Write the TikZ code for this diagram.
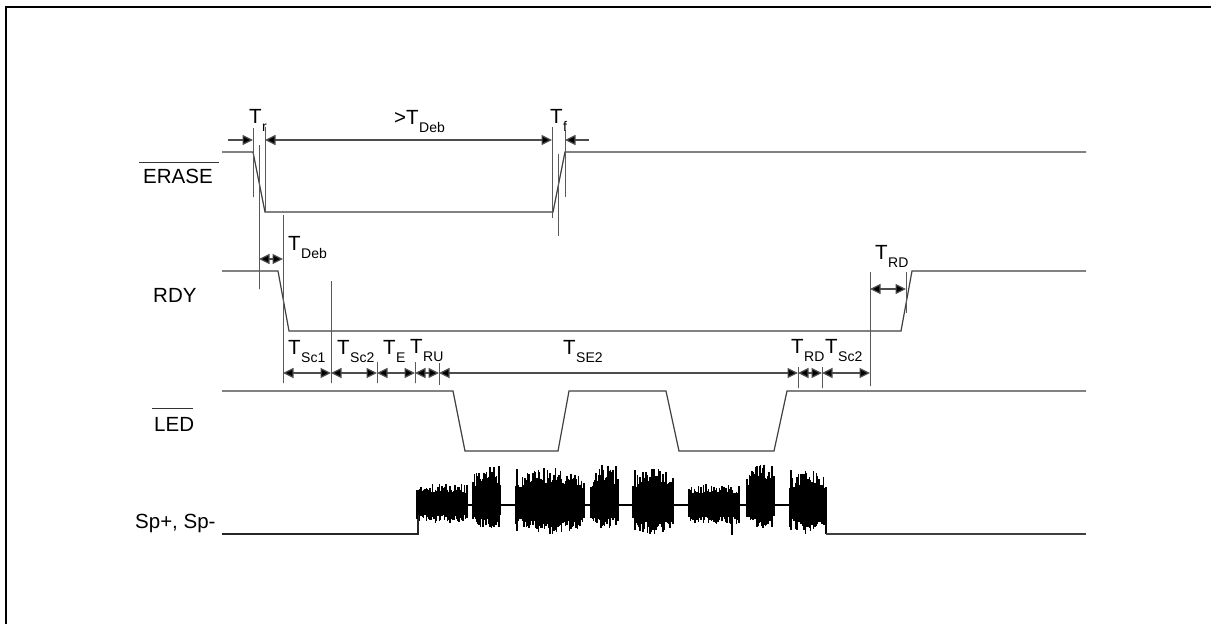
\documentclass[tikz,border=0pt]{standalone}
\usepackage{fontspec}
\setmainfont{Liberation Sans}
\usetikzlibrary{arrows.meta}
\newcommand{\lblT}[2]{{\fontsize{20.5}{20.5}\selectfont #1}\hspace{0.5pt}\raisebox{-8pt}{\fontsize{14}{14}\selectfont #2}}
\tikzset{
  x=1pt,y=-1pt,
  frameline/.style={draw=black,line width=2.2pt},
  signal/.style={draw=black!75,line width=1.2pt,line join=miter},
  guide/.style={draw=black!65,line width=1pt,dash pattern=on 2.5pt off 0.5pt},
  span/.style={draw=black!70,line width=1.2pt,{Triangle[length=10.5pt,width=10pt,fill=black]}-{Triangle[length=10.5pt,width=10pt,fill=black]}},
  spanr/.style={draw=black!70,line width=1.2pt,-{Triangle[length=10.5pt,width=10pt,fill=black]}},
  sigabel/.style={font=\fontsize{20.5}{20.5}\selectfont,anchor=base west,inner sep=0pt},
  tlabel/.style={anchor=base west,inner sep=0pt},
  over/.style={draw=black!80,line width=1pt},
  baseline sp/.style={draw=black,line width=1.6pt},
  noise/.style={draw=black,line width=1.4pt}
}
\newcommand{\burst}[7]{% x0 x1 top bottom center n flatness
  \foreach \i in {0,...,#6}{
    \pgfmathsetmacro{\xx}{#1+(#2-#1)*\i/#6}
    \pgfmathsetmacro{\env}{#7+(1-#7)*sin(180*\i/#6)}
    \pgfmathsetmacro{\up}{#5-(#5-#3)*\env*(0.58+0.42*rnd)}
    \pgfmathsetmacro{\dn}{#5+(#4-#5)*\env*(0.58+0.42*rnd)}
    \draw[noise] (\xx,\up) -- (\xx,\dn);
  }
}
\begin{document}
\begin{tikzpicture}
\useasboundingbox (0,0) rectangle (1211,624);
\fill[white] (0,0) rectangle (1211,624);
% frame
\draw[frameline] (6,624) -- (6,7) -- (1211,7);
% signals
\draw[signal] (222,152) -- (253,152) -- (265,212) -- (553,212) -- (565,152) -- (1086,152);
\draw[signal] (222,271) -- (278,271) -- (289,331) -- (901,331) -- (912,271) -- (1086,271);
\draw[signal] (222,391) -- (453,391) -- (465,451) -- (558,451) -- (569,391) -- (666,391) -- (679,451) -- (774,451) -- (787,391) -- (1086,391);
% named time marks
\coordinate (r0) at (253,140); \coordinate (r1) at (265,140);
\coordinate (f0) at (552,140); \coordinate (f1) at (565,140);
\coordinate (rl) at (228,140); \coordinate (fr) at (589,140);
\draw[guide] (253,128) -- (253,197);
\draw[guide] (265,127) -- (265,212);
\draw[guide] (259,145) -- (259,289);
\draw[guide] (283,215) -- (283,383);
\draw[guide] (331,281) -- (331,383);
\draw[guide] (552,127) -- (552,218);
\draw[guide] (558,154) -- (558,236);
\draw[guide] (565,130) -- (565,197);
\draw[guide] (377,362) -- (377,383);
\draw[guide] (415,362) -- (415,383);
\draw[guide] (439,363) -- (439,385);
\draw[guide] (798,367) -- (798,388);
\draw[guide] (822,367) -- (822,388);
\draw[guide] (870,272) -- (870,386);
\draw[guide] (906,272) -- (906,313);
% arrows
\draw[spanr] (rl) -- (r0);
\draw[span] (r1) -- (f0);
\draw[spanr] (fr) -- (f1);
\coordinate (d0) at (259,259); \coordinate (d1) at (283,259);
\draw[span] (d0) -- (d1);
\coordinate (m0) at (870,289); \coordinate (m1) at (906,289);
\draw[span] (m0) -- (m1);
\coordinate (a0) at (283,373); \coordinate (a1) at (331,373); \coordinate (a2) at (377,373);
\coordinate (a3) at (415,373); \coordinate (a4) at (439,373); \coordinate (a5) at (798,373);
\coordinate (a6) at (822,373); \coordinate (a7) at (870,373);
\draw[span] (a0) -- (a1); \draw[span] (a1) -- (a2); \draw[span] (a2) -- (a3);
\draw[span] (a3) -- (a4); \draw[span] (a4) -- (a5); \draw[span] (a5) -- (a6); \draw[span] (a6) -- (a7);
% signal labels
\node[sigabel] (lerase) at (143,183) {ERASE};
\draw[over] (139,162) -- (219,162);
\node[sigabel] (lrdy) at (153,302) {RDY};
\node[sigabel] (lled) at (154,431) {LED};
\draw[over] (152,408) -- (193,408);
\node[sigabel] (lsp) at (135,528) {Sp+, Sp-};
% time labels
\node[tlabel] (tr) at (249,123) {\lblT{T}{r}};
\node[tlabel] (tdebl) at (394,124) {\lblT{>T}{Deb}};
\node[tlabel] (tf) at (550,123) {\lblT{T}{f}};
\node[tlabel] (tdeb) at (288,250) {\lblT{T}{Deb}};
\node[tlabel] (trd1) at (875,259) {\lblT{T}{RD}};
\node[tlabel] (tsc1) at (288,354) {\lblT{T}{Sc1}};
\node[tlabel] (tsc2) at (337,354) {\lblT{T}{Sc2}};
\node[tlabel] (te) at (383,354) {\lblT{T}{E}};
\node[tlabel] (tru) at (410,353) {\lblT{T}{RU}};
\node[tlabel] (tse) at (563,354) {\lblT{T}{SE2}};
\node[tlabel] (trd2) at (791,353) {\lblT{T}{RD}};
\node[tlabel] (tsc3) at (825,353) {\lblT{T}{Sc2}};
% speaker trace
\pgfmathsetseed{4242}
\draw[draw=black!85,line width=1.2pt] (222,534) -- (418,534) -- (418,505);
\draw[baseline sp] (418,505) -- (790,505);
\draw[baseline sp] (826,505) -- (826,534);
\draw[signal] (826,534) -- (1086,534);
\burst{417}{467}{483}{523}{505}{38}{0.95}
\burst{473}{500}{463}{530}{505}{22}{0.7}
\burst{516}{584}{467}{535}{505}{52}{0.7}
\burst{591}{618}{463}{529}{505}{22}{0.7}
\burst{633}{673}{468}{535}{505}{28}{0.75}
\burst{689}{739}{484}{525}{505}{38}{0.95}
\burst{747}{774}{463}{529}{505}{22}{0.7}
\burst{790}{826}{470}{535}{505}{26}{0.75}
\draw[noise] (732,505) -- (732,535);
\draw[noise] (499,466) -- (499,527);
\draw[noise] (517,469) -- (517,531);
\draw[noise] (616,466) -- (616,525);
\draw[noise] (635,470) -- (635,530);
\draw[noise] (772,466) -- (772,527);
\draw[noise] (791,470) -- (791,530);
\end{tikzpicture}
\end{document}
